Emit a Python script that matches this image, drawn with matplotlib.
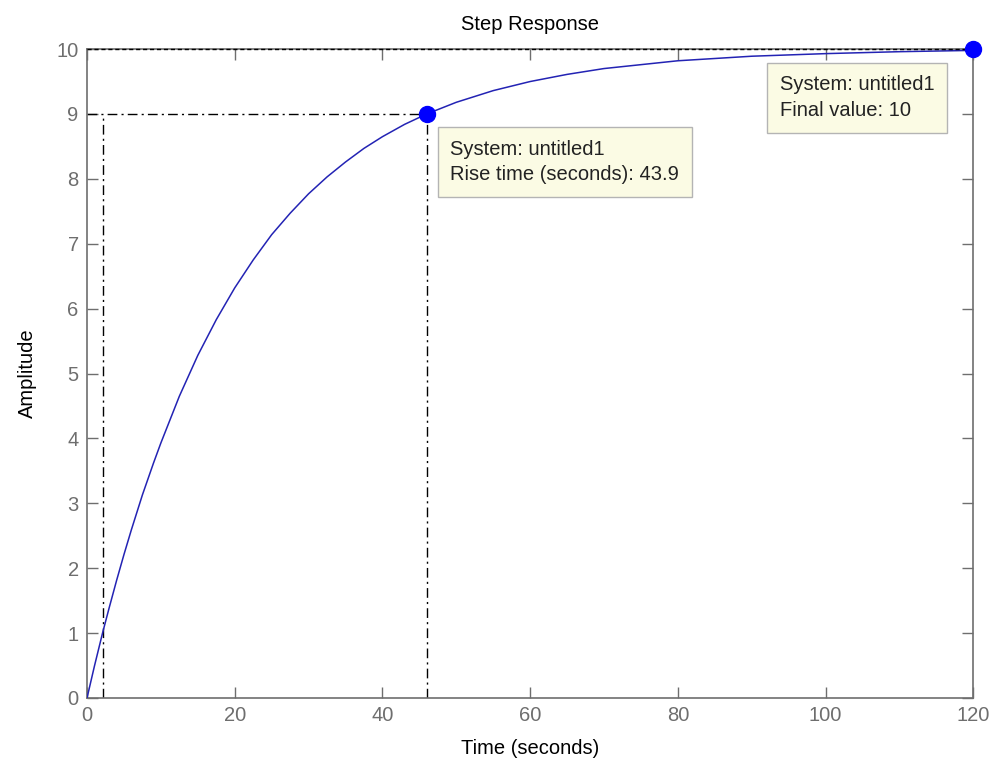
import matplotlib
matplotlib.use("Agg")
import matplotlib.pyplot as plt

plt.rcParams['font.family'] = ['Liberation Sans', 'DejaVu Sans']

# Step response samples (time in seconds, amplitude)
time_s = [0, 1, 2.1, 3, 4, 5, 6, 7.5, 9, 10, 12.5, 15, 17.5, 20, 22.5, 25,
          27.5, 30, 32.5, 35, 37.5, 40, 43, 46, 50, 55, 60, 65, 70, 75, 80,
          90, 100, 110, 120]
amplitude = [0, 0.49, 1.0, 1.39, 1.81, 2.21, 2.59, 3.13, 3.62, 3.93, 4.65,
             5.28, 5.83, 6.32, 6.75, 7.14, 7.47, 7.77, 8.03, 8.26, 8.47, 8.65,
             8.84, 9.0, 9.18, 9.36, 9.50, 9.61, 9.70, 9.76, 9.82, 9.89, 9.93,
             9.96, 9.98]

# Characteristics
system_name = "untitled1"
rise_start_t = 2.1      # 10% crossing
rise_time = 43.9        # 10% -> 90%
rise_low, rise_high = 1.0, 9.0
final_value = 10
final_t = 120

x_ticks = [0, 20, 40, 60, 80, 100, 120]
y_ticks = list(range(0, 11))

fig = plt.figure(figsize=(9.98, 7.67), dpi=100)
ax = fig.add_axes([0.0872, 0.090, 0.888, 0.846])

gray = "#6e6e6e"
fs = 14.5
dashdot = (0, (7, 3, 1.5, 3))

rise_end_t = rise_start_t + rise_time

# Rise-time guide lines
ax.plot([0, rise_end_t], [rise_high, rise_high], color="black", lw=1, linestyle=dashdot, zorder=2)
ax.plot([rise_end_t, rise_end_t], [0, rise_high], color="black", lw=1, linestyle=dashdot, zorder=2)
ax.plot([rise_start_t, rise_start_t], [0, rise_high], color="black", lw=1, linestyle=dashdot, zorder=2)

# Final value guide line
ax.plot([0, final_t], [final_value, final_value], color="black", lw=1,
        linestyle=(0, (3, 2)), zorder=4, clip_on=False)

# Response curve
ax.plot(time_s, amplitude, color="#2323b4", lw=1.1, zorder=3)

# Characteristic markers
ax.plot([rise_end_t], [rise_high], "o", color="#0000ff", ms=11.5, zorder=5, clip_on=False)
ax.plot([final_t], [final_value], "o", color="#0000ff", ms=11.5, zorder=5, clip_on=False)

box = dict(boxstyle="square,pad=0.62", fc="#fbfbe4", ec="#b4b4b4", lw=1)
ax.text(rise_end_t + 3.2, 8.26,
        f"System: {system_name}\nRise time (seconds): {rise_time}",
        fontsize=fs, color="#222222", va="center", ha="left",
        linespacing=1.45, bbox=box, zorder=6)
ax.text(final_t - 26.2, 9.25,
        f"System: {system_name}\nFinal value: {final_value}",
        fontsize=fs, color="#222222", va="center", ha="left",
        linespacing=1.45, bbox=box, zorder=6)

ax.set_xlim(0, 120)
ax.set_ylim(0, 10)
ax.set_xticks(x_ticks)
ax.set_yticks(y_ticks)
ax.tick_params(direction="in", length=8, width=1, color=gray, labelcolor=gray,
               labelsize=fs, top=True, right=True, pad=6)
for s in ax.spines.values():
    s.set_color(gray)
    s.set_linewidth(1.2)

ax.set_title("Step Response", fontsize=fs, pad=14)
ax.set_xlabel("Time (seconds)", fontsize=fs, labelpad=10)
ax.set_ylabel("Amplitude", fontsize=fs, labelpad=14)

fig.savefig("out.png", dpi=100)
